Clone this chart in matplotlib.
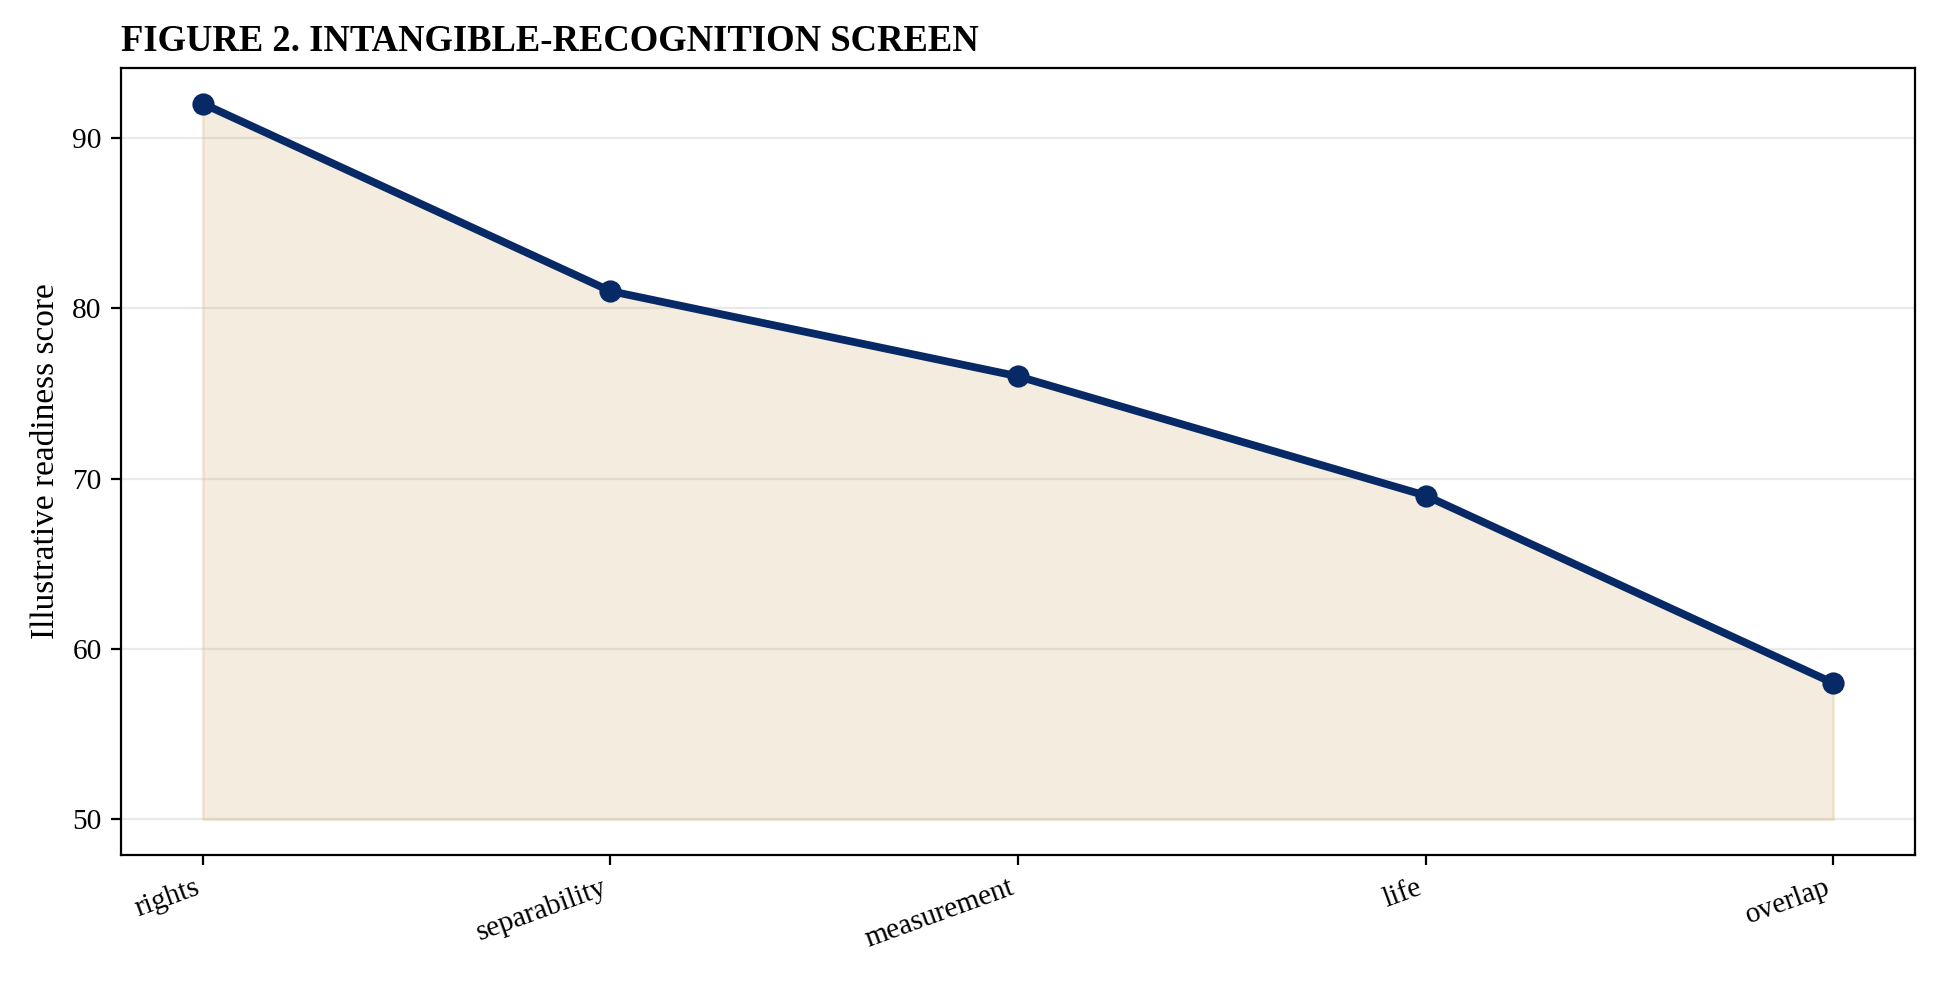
import numpy as np
import matplotlib
matplotlib.use('Agg')
import matplotlib.pyplot as plt

plt.rcParams['font.family'] = ['Liberation Serif', 'DejaVu Serif']

steps = ['rights', 'separability', 'measurement', 'life', 'overlap']
scores = [92, 81, 76, 69, 58]
baseline = 50

line_color = '#072a66'
fill_color = '#c9a45a'

fig = plt.figure(figsize=(9.7, 4.915), dpi=200)
ax = fig.add_axes([0.0625, 0.13, 0.9245, 0.801])

x = np.arange(len(steps))
ax.fill_between(x, baseline, scores, color=fill_color, alpha=0.2, linewidth=1)
ax.plot(x, scores, color=line_color, linewidth=2.8, marker='o', markersize=7)

ax.set_xticks(x)
ax.set_xticklabels(steps, rotation=20, ha='right')
ax.set_yticks([50, 60, 70, 80, 90])
ax.tick_params(labelsize=10.6)
ax.set_ylabel('Illustrative readiness score', fontsize=12)
ax.grid(axis='y', color='#dddddd', alpha=0.6, linewidth=0.8)
ax.set_axisbelow(True)
ax.set_title('FIGURE 2. INTANGIBLE-RECOGNITION SCREEN', loc='left',
             fontsize=13.2, fontweight='bold')

fig.savefig('out.png', dpi=200)
